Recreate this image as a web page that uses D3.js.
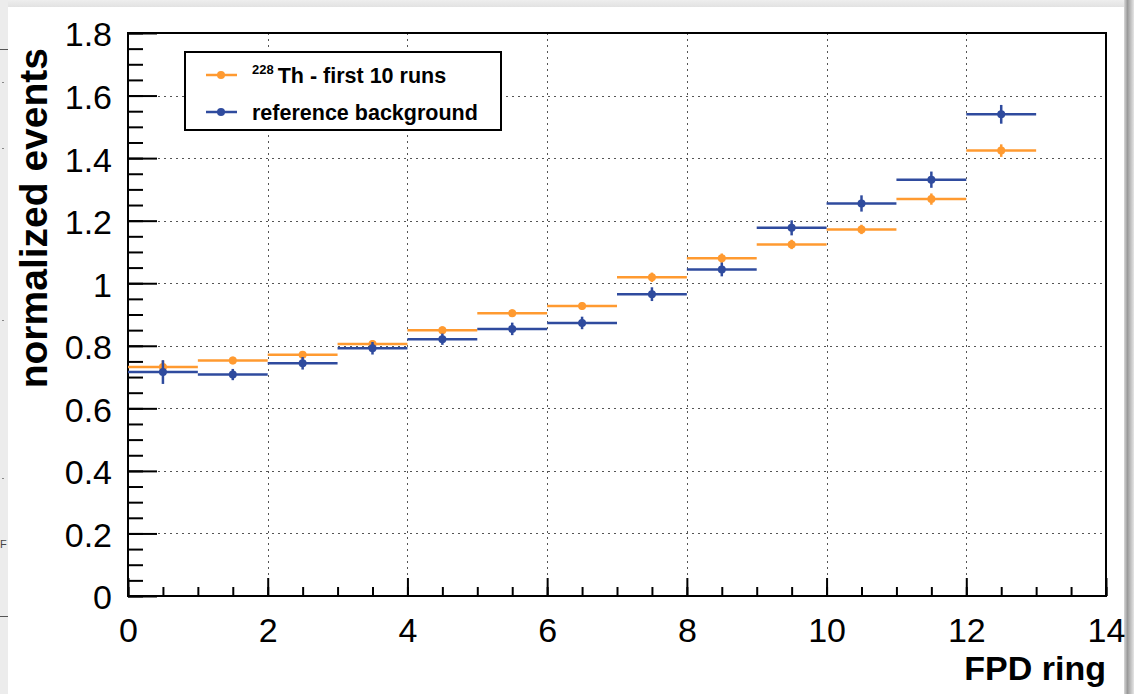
<!DOCTYPE html>
<html>
<head>
<meta charset="utf-8">
<script src="https://cdn.jsdelivr.net/npm/d3@7"></script>
<style>
  html, body { margin: 0; padding: 0; background: #ffffff; }
  svg { display: block; font-family: "Liberation Sans", Arial, Helvetica, sans-serif; }
</style>
</head>
<body>
<svg id="chart" width="1134" height="694"></svg>
<script>
// FPD ring bins (lower edges 0..12, each one ring wide)
const rings = [0, 1, 2, 3, 4, 5, 6, 7, 8, 9, 10, 11, 12];

// 228Th - first 10 runs
const thValues = [0.732, 0.753, 0.771, 0.806, 0.850, 0.904, 0.927, 1.019, 1.080, 1.124, 1.172, 1.269, 1.424];
const thErrors = [0.020, 0.012, 0.012, 0.012, 0.012, 0.012, 0.012, 0.015, 0.015, 0.015, 0.015, 0.018, 0.020];

// reference background
const bgValues = [0.716, 0.708, 0.744, 0.792, 0.821, 0.854, 0.873, 0.965, 1.044, 1.177, 1.255, 1.331, 1.540];
const bgErrors = [0.038, 0.018, 0.020, 0.020, 0.018, 0.020, 0.020, 0.022, 0.022, 0.024, 0.026, 0.026, 0.030];

// axis ticks
const xTicks = [0, 2, 4, 6, 8, 10, 12, 14];
const xTickLabels = ["0", "2", "4", "6", "8", "10", "12", "14"];
const xMinorTicks = d3.range(0, 14.001, 0.5);
const yTicks = [0, 0.2, 0.4, 0.6, 0.8, 1.0, 1.2, 1.4, 1.6, 1.8];
const yTickLabels = ["0", "0.2", "0.4", "0.6", "0.8", "1", "1.2", "1.4", "1.6", "1.8"];
const yMinorTicks = d3.range(0, 1.8001, 0.05);

const ORANGE = "#ff9a30";
const BLUE = "#2f4b9e";

const svg = d3.select("#chart");

// window chrome around the canvas
const defs = svg.append("defs");
const sh = defs.append("linearGradient").attr("id", "rshadow").attr("x1", 0).attr("x2", 1).attr("y1", 0).attr("y2", 0);
sh.append("stop").attr("offset", "0").attr("stop-color", "#d8d8d8");
sh.append("stop").attr("offset", "0.35").attr("stop-color", "#9a9a9a");
sh.append("stop").attr("offset", "1").attr("stop-color", "#e6e6e6");
const ts = defs.append("linearGradient").attr("id", "tshadow").attr("x1", 0).attr("x2", 0).attr("y1", 0).attr("y2", 1);
ts.append("stop").attr("offset", "0").attr("stop-color", "#eeeeee");
ts.append("stop").attr("offset", "1").attr("stop-color", "#e2e2e2");

svg.append("rect").attr("x", 0).attr("y", 0).attr("width", 1134).attr("height", 694).attr("fill", "#ffffff");
svg.append("rect").attr("x", 0).attr("y", 0).attr("width", 1134).attr("height", 7).attr("fill", "url(#tshadow)");
svg.append("rect").attr("x", 0).attr("y", 0).attr("width", 8).attr("height", 694).attr("fill", "#ececec");
svg.append("rect").attr("x", 1124).attr("y", 0).attr("width", 10).attr("height", 694).attr("fill", "url(#rshadow)");
// bits of the window behind, on the left edge
svg.append("line").attr("x1", 0).attr("x2", 8).attr("y1", 49.5).attr("y2", 49.5).attr("stroke", "#555").attr("stroke-width", 1);
svg.append("line").attr("x1", 0).attr("x2", 8).attr("y1", 616.5).attr("y2", 616.5).attr("stroke", "#555").attr("stroke-width", 1);
[82, 148, 320, 478].forEach(v => svg.append("line").attr("x1", 2).attr("x2", 4).attr("y1", v + 0.5).attr("y2", v + 0.5).attr("stroke", "#888"));
svg.append("text").attr("x", 0).attr("y", 548).attr("font-size", 11).attr("fill", "#444").text("F");

// scales
const x = d3.scaleLinear().domain([0, 14]).range([128, 1106]);
const y = d3.scaleLinear().domain([0, 1.8]).range([596, 33]);

// grid
const grid = svg.append("g").attr("stroke", "#555").attr("stroke-width", 1).attr("stroke-dasharray", "2,4");
grid.selectAll("line.gx").data(xTicks.filter(v => v > 0 && v < 14)).join("line")
  .attr("x1", d => Math.round(x(d)) + 0.5).attr("x2", d => Math.round(x(d)) + 0.5)
  .attr("y1", y(1.8)).attr("y2", y(0));
grid.selectAll("line.gy").data(yTicks.filter(v => v > 0 && v < 1.8)).join("line")
  .attr("x1", x(0)).attr("x2", x(14))
  .attr("y1", d => Math.round(y(d)) + 0.5).attr("y2", d => Math.round(y(d)) + 0.5);

// axes: minor ticks
const xMinor = svg.append("g").attr("transform", `translate(0,${y(0)})`)
  .call(d3.axisBottom(x).tickValues(xMinorTicks).tickSize(-9).tickFormat(""));
const yMinor = svg.append("g").attr("transform", `translate(${x(0)},0)`)
  .call(d3.axisLeft(y).tickValues(yMinorTicks).tickSize(-15).tickFormat(""));

// axes: major ticks with labels
const xAxis = svg.append("g").attr("transform", `translate(0,${y(0)})`)
  .call(d3.axisBottom(x).tickValues(xTicks).tickSize(-18).tickPadding(22)
    .tickFormat((d, i) => xTickLabels[i]));
const yAxis = svg.append("g").attr("transform", `translate(${x(0)},0)`)
  .call(d3.axisLeft(y).tickValues(yTicks).tickSize(-29).tickPadding(16)
    .tickFormat((d, i) => yTickLabels[i]));

[xMinor, yMinor, xAxis, yAxis].forEach(g => {
  g.select(".domain").remove();
  g.selectAll(".tick line").attr("stroke", "#000").attr("stroke-width", 2);
});
[xAxis, yAxis].forEach(g => {
  g.selectAll(".tick text").attr("font-size", 34).attr("fill", "#000")
    .attr("font-family", "'Liberation Sans', Arial, sans-serif");
});
yAxis.selectAll(".tick text").attr("dy", "0.38em");

// frame
svg.append("rect").attr("x", x(0)).attr("y", y(1.8))
  .attr("width", x(14) - x(0)).attr("height", y(0) - y(1.8))
  .attr("fill", "none").attr("stroke", "#000").attr("stroke-width", 2);

// axis titles
svg.append("text")
  .attr("transform", `translate(${x(14)},680)`)
  .attr("text-anchor", "end").attr("font-size", 34).attr("font-weight", "bold")
  .text("FPD ring");
svg.append("text")
  .attr("transform", `translate(47,48) rotate(-90)`)
  .attr("text-anchor", "end").attr("font-size", 39).attr("font-weight", "bold")
  .text("normalized events");

// histogram series: bin-width bars, error bars, markers
function drawSeries(values, errors, color) {
  const g = svg.append("g");
  const pts = rings.map((r, i) => ({ lo: r, hi: r + 1, v: values[i], e: errors[i] }));
  g.selectAll("line.h").data(pts).join("line")
    .attr("x1", d => x(d.lo)).attr("x2", d => x(d.hi))
    .attr("y1", d => y(d.v)).attr("y2", d => y(d.v))
    .attr("stroke", color).attr("stroke-width", 2.5);
  g.selectAll("line.v").data(pts).join("line")
    .attr("x1", d => x((d.lo + d.hi) / 2)).attr("x2", d => x((d.lo + d.hi) / 2))
    .attr("y1", d => y(d.v - d.e)).attr("y2", d => y(d.v + d.e))
    .attr("stroke", color).attr("stroke-width", 2.5);
  g.selectAll("circle").data(pts).join("circle")
    .attr("cx", d => x((d.lo + d.hi) / 2)).attr("cy", d => y(d.v))
    .attr("r", 4).attr("fill", color);
}
drawSeries(thValues, thErrors, ORANGE);
drawSeries(bgValues, bgErrors, BLUE);

// legend
const leg = svg.append("g");
leg.append("rect").attr("x", 185).attr("y", 52).attr("width", 316).attr("height", 78)
  .attr("fill", "#ffffff").attr("stroke", "#000").attr("stroke-width", 2);
const entries = [
  { color: ORANGE, sup: "228", label: "Th - first 10 runs", yy: 75 },
  { color: BLUE, sup: null, label: "reference background", yy: 112 }
];
entries.forEach(e => {
  leg.append("line").attr("x1", 206).attr("x2", 237).attr("y1", e.yy).attr("y2", e.yy)
    .attr("stroke", e.color).attr("stroke-width", 2.5);
  leg.append("circle").attr("cx", 221).attr("cy", e.yy).attr("r", 4).attr("fill", e.color);
  const t = leg.append("text").attr("x", 252).attr("y", e.yy + 8)
    .attr("font-size", 21.5).attr("font-weight", "bold");
  if (e.sup) {
    t.append("tspan").attr("font-size", 13).attr("dy", -9).text(e.sup);
    t.append("tspan").attr("dy", 9).attr("dx", 4).text(e.label);
  } else {
    t.text(e.label);
  }
});
</script>
</body>
</html>
